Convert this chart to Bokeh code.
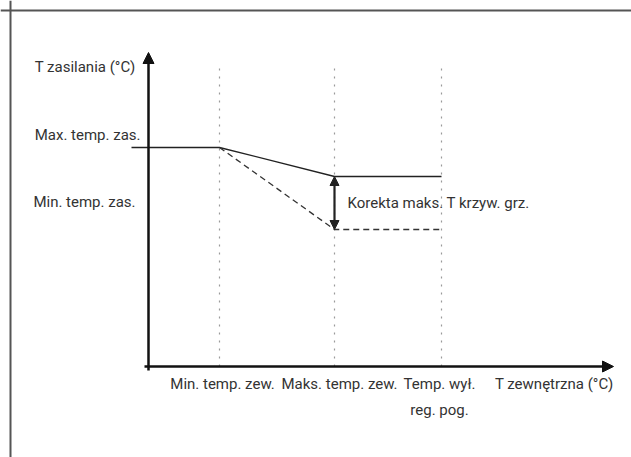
from bokeh.plotting import figure
from bokeh.models import Range1d, Arrow, NormalHead, Label, Span
from bokeh.embed import file_html
from bokeh.resources import INLINE

# --- schematic data (arbitrary units) ---
# outdoor temperature characteristic points
x_points = [71, 186, 293]
x_labels = ["Min. temp. zew.", "Maks. temp. zew.", "Temp. wył."]
x_label_second_line = ["", "", "reg. pog."]
x_axis_title = "T zewnętrzna (°C)"

# supply temperature levels
max_supply = 219          # Max. temp. zas.
corrected_supply = 190    # after "Korekta maks. T krzyw. grz."
min_supply = 137          # Min. temp. zas.
y_axis_title = "T zasilania (°C)"
y_labels = ["Max. temp. zas.", "Min. temp. zas."]
correction_label = "Korekta maks. T krzyw. grz."

# curves
solid_x = [-17, x_points[0], x_points[1], x_points[2]]
solid_y = [max_supply, max_supply, corrected_supply, corrected_supply]
dashed_x = [x_points[0], x_points[1], x_points[2]]
dashed_y = [max_supply, min_supply, min_supply]

x_axis_end = 465
y_axis_end = 314
guide_top = 299

FONT = "Roboto"
TXT = "#333333"
FS = "15px"

p = figure(width=631, height=457, output_backend="svg", toolbar_location=None,
           x_range=Range1d(-148, 483), y_range=Range1d(-91, 366),
           x_axis_type=None, y_axis_type=None, min_border=0,
           outline_line_color=None, background_fill_color="white",
           border_fill_color="white")
p.grid.visible = False

# frame (top and left edges)
p.add_layout(Span(location=356, dimension="width", line_color="#555555", line_width=2))
p.add_layout(Span(location=-138, dimension="height", line_color="#555555", line_width=2))

# dotted guides
for xv in x_points:
    p.line([xv, xv], [0, guide_top], line_color="#9a9a9a", line_width=1.2, line_dash="2 6")

# axes with arrow heads
p.add_layout(Arrow(x_start=-4, y_start=0, x_end=x_axis_end, y_end=0,
                   line_color="#111111", line_width=2.5,
                   end=NormalHead(size=11, fill_color="#111111", line_color="#111111")))
p.add_layout(Arrow(x_start=0, y_start=-4, x_end=0, y_end=y_axis_end,
                   line_color="#111111", line_width=2.5,
                   end=NormalHead(size=11, fill_color="#111111", line_color="#111111")))

# curves
p.line(solid_x, solid_y, line_color="#222222", line_width=1.3)
p.line(dashed_x, dashed_y, line_color="#333333", line_width=1.3, line_dash="6 4")

# correction double arrow
p.add_layout(Arrow(x_start=x_points[1], y_start=corrected_supply, x_end=x_points[1], y_end=min_supply,
                   line_color="#222222", line_width=2.2,
                   start=NormalHead(size=9, fill_color="#222222", line_color="#222222"),
                   end=NormalHead(size=9, fill_color="#222222", line_color="#222222")))

def lab(x, y, text, align="left", baseline="middle", xo=0, yo=0):
    p.add_layout(Label(x=x, y=y, text=text, x_offset=xo, y_offset=yo,
                       text_font=FONT, text_font_size=FS, text_color=TXT,
                       text_align=align, text_baseline=baseline))

# y-side labels
lab(0, 300, y_axis_title, align="right", xo=-13)
lab(0, max_supply, y_labels[0], align="right", xo=-8, yo=13)
lab(0, (max_supply + min_supply) / 2 - 13, y_labels[1], align="right", xo=-13)

# x-side labels
x_off = [3, 5, -2]
for xv, t, t2, o in zip(x_points, x_labels, x_label_second_line, x_off):
    lab(xv, 0, t, align="center", baseline="top", xo=o, yo=-8)
    if t2:
        lab(xv, 0, t2, align="center", baseline="top", xo=o, yo=-34)
lab(x_axis_end, 0, x_axis_title, align="right", baseline="top", xo=0, yo=-8)

# correction label
lab(x_points[1], (corrected_supply + min_supply) / 2, correction_label, align="left", xo=13)

open("out.html", "w").write(file_html(p, INLINE))
